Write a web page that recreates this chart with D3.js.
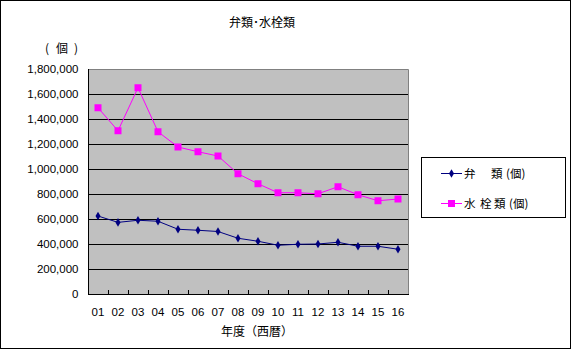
<!DOCTYPE html>
<html><head><meta charset="utf-8">
<script src="https://cdn.jsdelivr.net/npm/d3@7"></script>
<style>
html,body{margin:0;padding:0;background:#fff;}
svg{display:block;}
text{font-family:"Noto Sans CJK JP","Liberation Sans",sans-serif;fill:#000;}
.num{font-family:"Liberation Sans",Arial,sans-serif;font-size:11.5px;}
</style></head>
<body>
<svg id="c" width="572" height="350"></svg>
<script>
const years = ["01","02","03","04","05","06","07","08","09","10","11","12","13","14","15","16"];
const valves = [624000,573000,590000,582000,518000,510000,500000,446000,422000,390000,398000,400000,414000,382000,382000,358000];
const faucets = [1490000,1306000,1650000,1298000,1176000,1138000,1104000,962000,882000,810000,810000,802000,858000,794000,746000,760000];
const yTicks = [0,200000,400000,600000,800000,1000000,1200000,1400000,1600000,1800000];
// legend names, split into glyph groups for spacing
const seriesNames = [["弁","類","(個)"],["水","栓","類","(個)"]];

const svg = d3.select("#c");
svg.append("rect").attr("x",0.5).attr("y",0.5).attr("width",570).attr("height",348)
  .attr("fill","#fff").attr("stroke","#000").attr("stroke-width",1);

const L=88,R=408,T=69,B=294;
const x = d3.scaleBand().domain(years).range([L,R]);
const y = d3.scaleLinear().domain([0,1800000]).range([B,T]);

svg.append("rect").attr("x",L).attr("y",T).attr("width",R-L).attr("height",B-T)
  .attr("fill","#c0c0c0");

// gridlines
svg.append("g").selectAll("line").data(yTicks.filter(d=>d>0 && d<1800000)).join("line")
  .attr("x1",L).attr("x2",R).attr("y1",d=>Math.round(y(d))+0.5).attr("y2",d=>Math.round(y(d))+0.5)
  .attr("stroke","#000").attr("stroke-width",1);

// plot border (gray) top & right
svg.append("path").attr("d",`M${L},${T+0.5}H${R+0.5}V${B}`).attr("fill","none").attr("stroke","#808080");

// y axis
const yAxis = d3.axisLeft(y).tickValues(yTicks).tickSize(0).tickPadding(10)
  .tickFormat(d3.format(","));
const gy = svg.append("g").attr("transform",`translate(${L+0.5},0)`).call(yAxis);
gy.select(".domain").attr("stroke","#000").attr("d",`M0,${T}V${B+0.5}`);
gy.selectAll("text").attr("class","num").attr("font-size",null).attr("font-family",null).attr("fill","#000");

// x axis
const xAxis = d3.axisBottom(x).tickSize(0).tickPadding(13);
const gx = svg.append("g").attr("transform",`translate(0,${B+0.5})`).call(xAxis);
gx.select(".domain").attr("stroke","#000").attr("d",`M${L},0H${R+1}`);
gx.selectAll("text").attr("class","num").attr("font-size",null).attr("font-family",null).attr("fill","#000");
// inside ticks at category boundaries
svg.append("g").selectAll("line").data(years.slice(1)).join("line")
  .attr("x1",d=>Math.round(x(d))+0.5).attr("x2",d=>Math.round(x(d))+0.5)
  .attr("y1",B).attr("y2",B-4).attr("stroke","#000");

const cx = d=>x(d)+x.bandwidth()/2;
const line = d3.line().x((d,i)=>cx(years[i])).y(d=>y(d));

// faucets series
svg.append("path").datum(faucets).attr("d",line).attr("fill","none").attr("stroke","#ff00ff").attr("stroke-width",1);
svg.append("g").selectAll("rect").data(faucets).join("rect")
  .attr("x",(d,i)=>cx(years[i])-3.5).attr("y",d=>y(d)-3.5).attr("width",7).attr("height",7)
  .attr("fill","#ff00ff");

// valves series
svg.append("path").datum(valves).attr("d",line).attr("fill","none").attr("stroke","#000080").attr("stroke-width",1);
const diamond = d3.symbol().type(d3.symbolDiamond).size(22);
svg.append("g").selectAll("path").data(valves).join("path")
  .attr("transform",(d,i)=>`translate(${cx(years[i])},${y(d)})`).attr("d",diamond)
  .attr("fill","#000080");

// titles
svg.append("text").attr("x",262).attr("y",27).attr("text-anchor","middle").attr("font-size",12).text("弁類･水栓類");
const unit = svg.append("text").attr("y",53).attr("font-size",12);
unit.append("tspan").attr("x",45).text("(");
unit.append("tspan").attr("x",56).text("個");
unit.append("tspan").attr("x",74).text(")");
svg.append("text").attr("x",257).attr("y",336).attr("text-anchor","middle").attr("font-size",12).text("年度（西暦）");

// legend
svg.append("rect").attr("x",421.5).attr("y",157.5).attr("width",144).attr("height",60)
  .attr("fill","#fff").attr("stroke","#000");
const lg = [{c:"#000080",t:"d",yy:173,xs:[464,491,506]},{c:"#ff00ff",t:"s",yy:203,xs:[464,480,494,509]}];
lg.forEach((e,i)=>{
  svg.append("line").attr("x1",441).attr("x2",462).attr("y1",e.yy+0.5).attr("y2",e.yy+0.5).attr("stroke",e.c);
  if(e.t==="d") svg.append("path").attr("transform",`translate(451.5,${e.yy+0.5})`).attr("d",diamond).attr("fill",e.c);
  else svg.append("rect").attr("x",448).attr("y",e.yy-3).attr("width",7).attr("height",7).attr("fill",e.c);
  const t = svg.append("text").attr("y",e.yy+5).attr("font-size",11.5);
  seriesNames[i].forEach((s,j)=>t.append("tspan").attr("x",e.xs[j]).text(s));
});
</script>
</body></html>
